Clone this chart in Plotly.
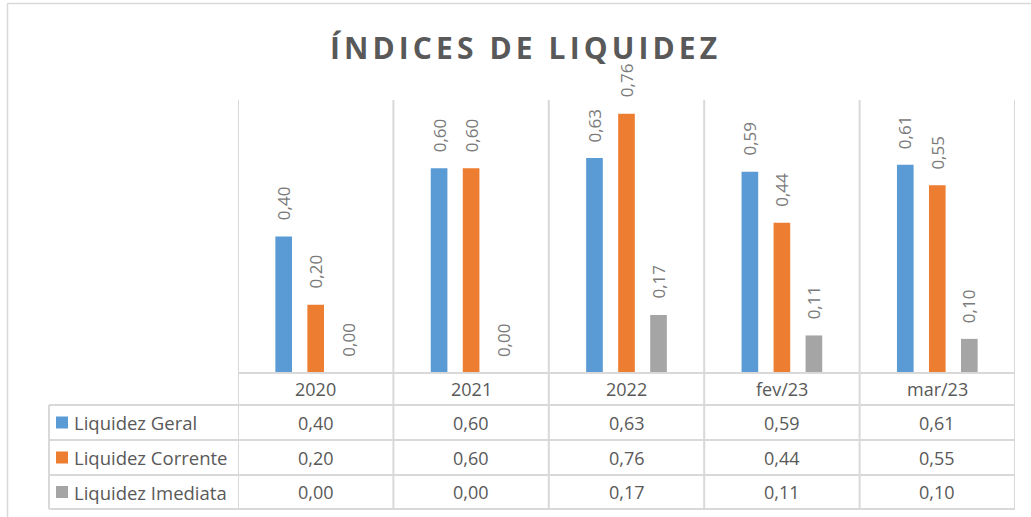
import plotly.graph_objects as go

categories = ["2020", "2021", "2022", "fev/23", "mar/23"]
series_names = ["Liquidez Geral", "Liquidez Corrente", "Liquidez Imediata"]
liquidez_geral = [0.40, 0.60, 0.63, 0.59, 0.61]
liquidez_corrente = [0.20, 0.60, 0.76, 0.44, 0.55]
liquidez_imediata = [0.00, 0.00, 0.17, 0.11, 0.10]
title_text = "ÍNDICES DE LIQUIDEZ"

series_values = [liquidez_geral, liquidez_corrente, liquidez_imediata]
colors = ["#5B9BD5", "#ED7D31", "#A5A5A5"]

W, H = 1031, 517
def py(px):  # pixel row -> paper y
    return 1 - px / H
def pxx(px):
    return px / W

PLOT_L, PLOT_R, PLOT_T, PLOT_B = 238, 1015, 100, 373
ROWS = [373, 405, 440, 475, 509]
TABLE_L = 49
GRID = "#D9D9D9"
TXT = "#595959"
FONT = "Open Sans"
BARGAP = 0.382
BARGROUPGAP = 0.48

def fmt(v):
    return f"{v:.2f}".replace(".", ",")

fig = go.Figure()
for name, vals, col in zip(series_names, series_values, colors):
    fig.add_trace(go.Bar(x=categories, y=vals, name=name, marker_color=col,
                         marker_line_width=0, showlegend=False, hoverinfo="skip"))

annotations = []
shapes = []

# data labels above bars
slot = (1 - BARGAP) / len(series_values)
for s, vals in enumerate(series_values):
    for i, v in enumerate(vals):
        annotations.append(dict(
            x=i + (s - 1) * slot, y=v, xref="x", yref="y", text=fmt(v),
            textangle=-90, showarrow=False, yanchor="bottom", xanchor="center",
            yshift=14, font=dict(family=FONT, size=17, color="#7A7A7A")))

# title
annotations.append(dict(
    x=pxx(525), y=py(47), xref="paper", yref="paper", showarrow=False,
    text=f'<span style="letter-spacing:4.1px">{title_text}</span>',
    xanchor="center", yanchor="middle",
    font=dict(family=FONT, size=30, color=TXT, weight=700)))

# category row
for i, c in enumerate(categories):
    annotations.append(dict(x=i, y=py((ROWS[0] + ROWS[1]) / 2), xref="x", yref="paper",
                            text=c, showarrow=False, xanchor="center", yanchor="middle",
                            font=dict(family=FONT, size=18, color=TXT)))

# table rows
for r, (name, vals, col) in enumerate(zip(series_names, series_values, colors)):
    yc = py((ROWS[r + 1] + ROWS[r + 2]) / 2)
    for i, v in enumerate(vals):
        annotations.append(dict(x=i, y=yc, xref="x", yref="paper", text=fmt(v),
                                showarrow=False, xanchor="center", yanchor="middle",
                                font=dict(family=FONT, size=18, color=TXT)))
    annotations.append(dict(x=pxx(72), y=yc, xref="paper", yref="paper", text=name,
                            showarrow=False, xanchor="left", yanchor="middle",
                            font=dict(family=FONT, size=18.5, color=TXT)))
    shapes.append(dict(type="rect", xref="paper", yref="paper",
                       x0=pxx(56), x1=pxx(68), y0=yc - 6 / H, y1=yc + 6 / H,
                       fillcolor=col, line_width=0))

# vertical grid / table lines at category boundaries
for k in range(len(categories) + 1):
    shapes.append(dict(type="line", xref="x", yref="paper", x0=k - 0.5, x1=k - 0.5,
                       y0=py(ROWS[-1]), y1=py(PLOT_T), line=dict(color=GRID, width=2)))
# horizontal table lines
shapes.append(dict(type="line", xref="paper", yref="paper", x0=pxx(PLOT_L), x1=pxx(PLOT_R),
                   y0=py(ROWS[0]), y1=py(ROWS[0]), line=dict(color=GRID, width=2)))
for yy in ROWS[1:]:
    shapes.append(dict(type="line", xref="paper", yref="paper", x0=pxx(TABLE_L), x1=pxx(PLOT_R),
                       y0=py(yy), y1=py(yy), line=dict(color=GRID, width=2)))
shapes.append(dict(type="line", xref="paper", yref="paper", x0=pxx(TABLE_L), x1=pxx(TABLE_L),
                   y0=py(ROWS[-1]), y1=py(ROWS[1]), line=dict(color=GRID, width=2)))
# chart frame (left and top visible)
shapes.append(dict(type="line", xref="paper", yref="paper", x0=pxx(7.5), x1=pxx(7.5),
                   y0=0, y1=py(3.5), line=dict(color=GRID, width=1.5)))
shapes.append(dict(type="line", xref="paper", yref="paper", x0=pxx(7.5), x1=1,
                   y0=py(3.5), y1=py(3.5), line=dict(color=GRID, width=1.5)))

fig.update_layout(
    width=W, height=H, autosize=False,
    margin=dict(l=0, r=0, t=0, b=0),
    paper_bgcolor="white", plot_bgcolor="white",
    barmode="group", bargap=BARGAP, bargroupgap=BARGROUPGAP,
    xaxis=dict(domain=[pxx(PLOT_L), pxx(PLOT_R)], range=[-0.5, len(categories) - 0.5],
               showticklabels=False, showgrid=False, zeroline=False, showline=False,
               ticks="", fixedrange=True),
    yaxis=dict(domain=[py(PLOT_B), py(PLOT_T)], range=[0, 0.8], visible=False,
               showgrid=False, zeroline=False, fixedrange=True),
    annotations=annotations, shapes=shapes,
)

fig.write_html("out.html", config={"displayModeBar": False},
               post_script="document.body.style.margin='0';document.body.style.overflow='hidden';")
